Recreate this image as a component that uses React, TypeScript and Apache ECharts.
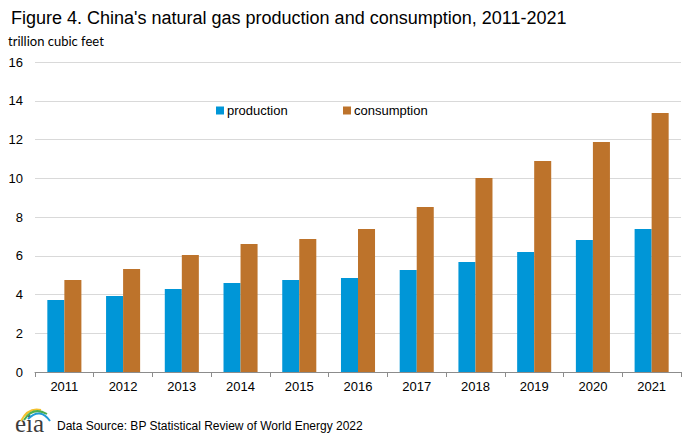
import React, { useEffect, useRef } from "react";
import * as echarts from "echarts";

const years = ["2011", "2012", "2013", "2014", "2015", "2016", "2017", "2018", "2019", "2020", "2021"];
const production = [3.72, 3.92, 4.28, 4.59, 4.75, 4.85, 5.26, 5.68, 6.19, 6.81, 7.38];
const consumption = [4.75, 5.32, 6.04, 6.61, 6.86, 7.38, 8.52, 10.01, 10.89, 11.87, 13.37];
const yMin = 0;
const yMax = 16;
const yInterval = 2;

const titleText = "Figure 4. China's natural gas production and consumption, 2011-2021";
const unitText = "trillion cubic feet";
const sourceText = "Data Source: BP Statistical Review of World Energy 2022";

const BLUE = "#0096D7";
const ORANGE = "#BD732B";
const FONT = "'Liberation Sans', Arial, sans-serif";

export default function App() {
  const ref = useRef<HTMLDivElement>(null);
  useEffect(() => {
    if (!ref.current) return;
    const chart = echarts.init(ref.current, undefined, { renderer: "svg" });
    chart.setOption({
      animation: false,
      backgroundColor: "#ffffff",
      title: {
        text: titleText,
        left: 6,
        top: 4,
        textStyle: { fontFamily: FONT, fontSize: 18, fontWeight: "normal", color: "#000" },
      },
      legend: [
        {
          data: ["production"],
          left: 216,
          top: 104,
          padding: 0,
          itemWidth: 8,
          itemHeight: 8,
          textStyle: { fontFamily: FONT, fontSize: 13, color: "#000", padding: [0, 0, 0, -2] },
          icon: "rect",
        },
        {
          data: ["consumption"],
          left: 343,
          top: 104,
          padding: 0,
          itemWidth: 8,
          itemHeight: 8,
          textStyle: { fontFamily: FONT, fontSize: 13, color: "#000", padding: [0, 0, 0, -2] },
          icon: "rect",
        },
      ],
      grid: { left: 35, right: 13, top: 62, bottom: 69, containLabel: false },
      xAxis: {
        type: "category",
        data: years,
        axisLine: { lineStyle: { color: "#8c8c8c", width: 1 } },
        axisTick: { show: true, length: 5, lineStyle: { color: "#8c8c8c" }, alignWithLabel: false },
        axisLabel: { fontFamily: FONT, fontSize: 13, color: "#000", margin: 8 },
      },
      yAxis: {
        type: "value",
        min: yMin,
        max: yMax,
        interval: yInterval,
        axisLine: { show: false },
        axisTick: { show: false },
        splitLine: { lineStyle: { color: "#d9d9d9", width: 1 } },
        axisLabel: { fontFamily: FONT, fontSize: 13, color: "#000", margin: 12 },
      },
      series: [
        {
          name: "production",
          type: "bar",
          data: production,
          itemStyle: { color: BLUE },
          barGap: "0%",
          barCategoryGap: "42%",
        },
        {
          name: "consumption",
          type: "bar",
          data: consumption,
          itemStyle: { color: ORANGE },
          barGap: "0%",
          barCategoryGap: "42%",
        },
      ],
      graphic: [
        {
          type: "text",
          left: 8,
          top: 34,
          style: { text: unitText, fontFamily: "Lato, sans-serif", fontSize: 13, fill: "#000" },
        },
        {
          type: "text",
          left: 57,
          top: 420,
          style: { text: sourceText, fontFamily: FONT, fontSize: 12, fill: "#000" },
        },
        {
          type: "text",
          left: 15,
          top: 411,
          style: { text: "eia", fontFamily: "'Liberation Serif', serif", fontSize: 25, fill: "#3c3c3c" },
        },
        {
          type: "bezierCurve",
          shape: { x1: 21, y1: 421, cpx1: 28, cpy1: 407, x2: 41, y2: 410 },
          style: { stroke: "#F2C12E", lineWidth: 2, fill: "none" },
        },
        {
          type: "bezierCurve",
          shape: { x1: 24, y1: 420, cpx1: 33, cpy1: 406, x2: 47, y2: 414 },
          style: { stroke: "#4BAE4F", lineWidth: 2, fill: "none" },
        },
        {
          type: "bezierCurve",
          shape: { x1: 28, y1: 419, cpx1: 40, cpy1: 407, x2: 50, y2: 421 },
          style: { stroke: "#1E9AD6", lineWidth: 2, fill: "none" },
        },
      ],
    });
    return () => chart.dispose();
  }, []);
  return <div ref={ref} style={{ position: "absolute", left: 0, top: 0, width: 694, height: 441 }} />;
}
